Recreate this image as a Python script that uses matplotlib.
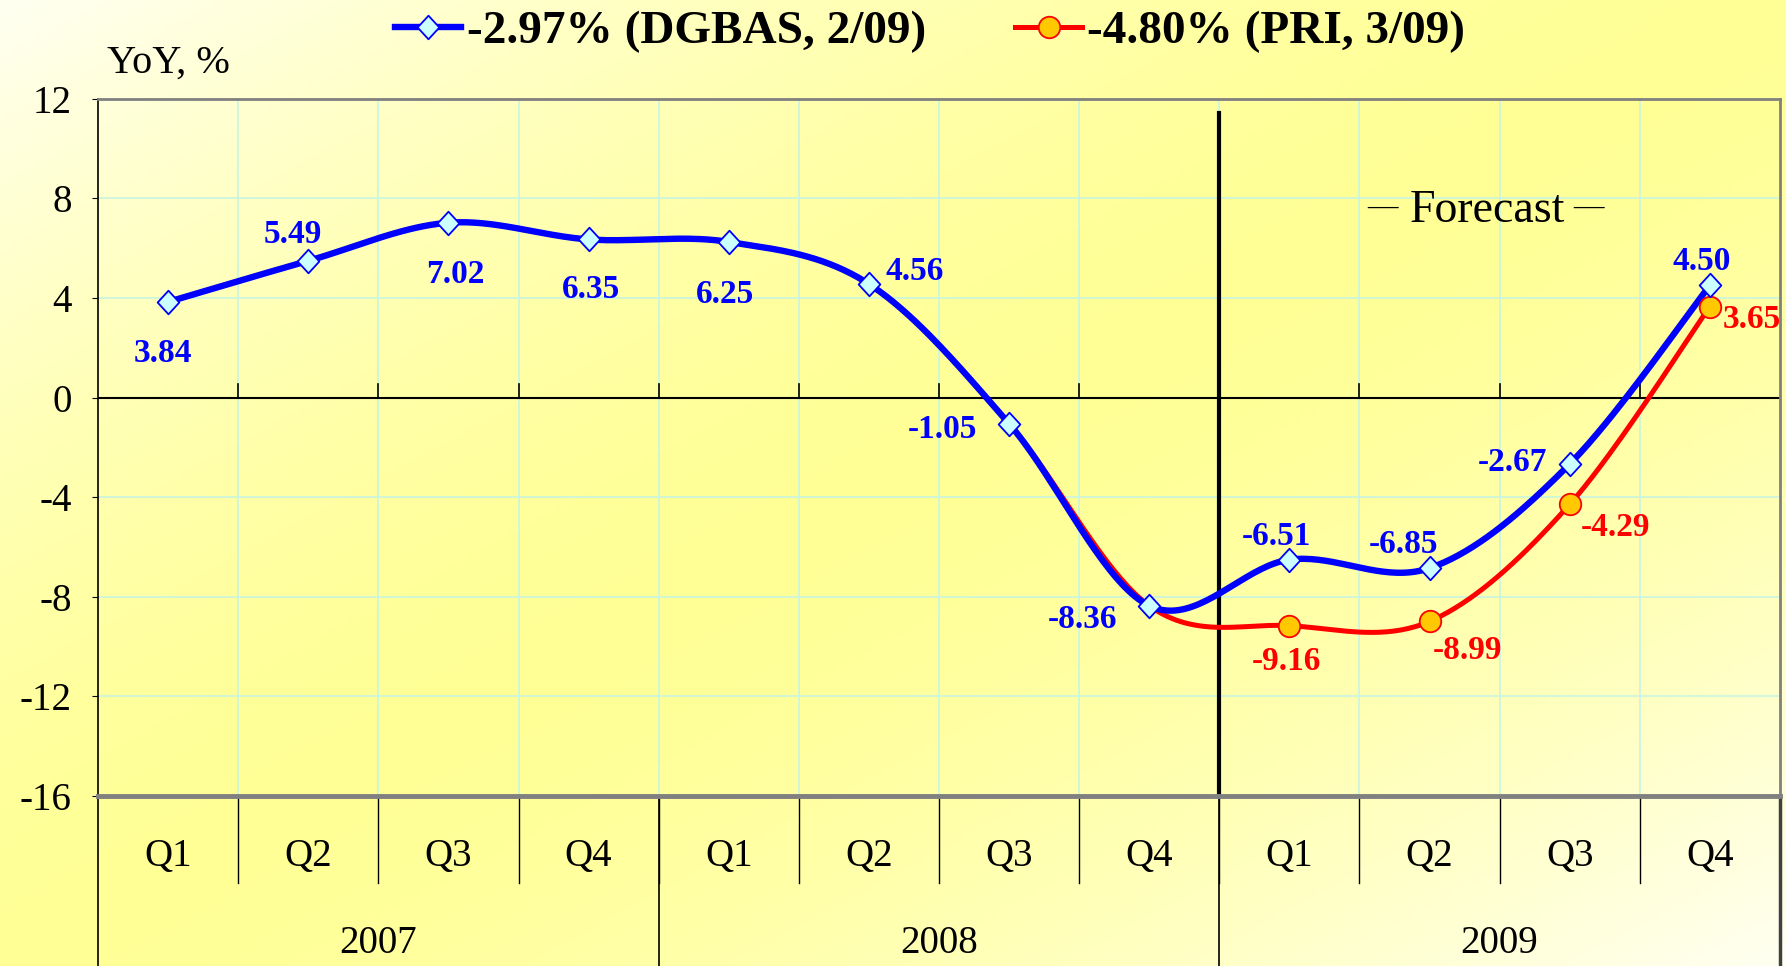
import numpy as np
import matplotlib
matplotlib.use("Agg")
import matplotlib.pyplot as plt
import matplotlib.transforms as mtransforms
from matplotlib.lines import Line2D
from matplotlib.path import Path

plt.rcParams["font.family"] = ["Liberation Serif", "DejaVu Serif"]
plt.rcParams["axes.unicode_minus"] = False

# données
quarters = ["Q1", "Q2", "Q3", "Q4"] * 3
years = ["2007", "2008", "2009"]
dgbas = [3.84, 5.49, 7.02, 6.35, 6.25, 4.56, -1.05, -8.36, -6.51, -6.85, -2.67, 4.50]
# la série PRI reprend l'historique (caché sous la ligne bleue)
pri = [3.84, 5.49, 7.02, 6.35, 6.25, 4.56, -1.05, -8.36, -9.16, -8.99, -4.29, 3.65]
pri_first_forecast = 8
dgbas_name = "-2.97% (DGBAS, 2/09)"
pri_name = "-4.80% (PRI, 3/09)"

# décalage des étiquettes (points)
dgbas_off = [(-4, -37), (-11, 19), (5, -37), (2, -36), (-3, -38), (33, 9),
             (-48, -4), (-48, -10), (-9, 17), (-19, 17), (-41, 1), (-6, 17)]
pri_off = [(-2, -26), (27, -21), (33, -17), (30, -9)]


def lisser(xs, ys, n=40):
    # courbe lissée façon Excel (Bezier / Catmull-Rom)
    pts = np.column_stack([xs, ys])
    res = []
    for i in range(len(pts) - 1):
        p0 = pts[i - 1] if i > 0 else pts[i]
        p1, p2 = pts[i], pts[i + 1]
        p3 = pts[i + 2] if i + 2 < len(pts) else pts[i + 1]
        c1 = p1 + (p2 - p0) / 6
        c2 = p2 - (p3 - p1) / 6
        t = np.linspace(0, 1, n)[:, None]
        seg = (1 - t) ** 3 * p1 + 3 * (1 - t) ** 2 * t * c1 + 3 * (1 - t) * t ** 2 * c2 + t ** 3 * p2
        res.append(seg if i == 0 else seg[1:])
    res = np.vstack(res)
    return res[:, 0], res[:, 1]


fig = plt.figure(figsize=(17.86, 9.66), dpi=100)

# fond dégradé
bg = fig.add_axes([0, 0, 1, 1], zorder=-10)
W, H = 400, 220
xx, yy = np.meshgrid(np.linspace(0, 1, W), np.linspace(0, 1, H))
t = (xx + yy) / 2
k = 1 - np.abs(2 * t - 1) ** 1.6
img = np.ones((H, W, 3))
img[:, :, 2] = (242 - k * (242 - 150)) / 255
bg.imshow(img, aspect="auto", extent=[0, 1, 1, 0])
bg.axis("off")

ax = fig.add_axes([0.0549, 0.176, 0.9417, 0.7218])
ax.set_facecolor("none")
x = np.arange(len(quarters))
ax.set_xlim(-0.5, 11.5)
ax.set_ylim(-16, 12)
ax.set_yticks(np.arange(-16, 13, 4))
ax.tick_params(axis="y", labelsize=28, length=4, pad=15)
ax.set_xticks([])

# grille
for yv in [-12, -8, -4, 4, 8]:
    ax.axhline(yv, color="#c8f5e0", lw=1.2, zorder=0)
for b in np.arange(0.5, 11, 1):
    ax.axvline(b, color="#c8f5e0", lw=1.2, zorder=0)
ax.axhline(0, color="black", lw=1.5, zorder=1)
for b in np.arange(0.5, 11, 1):
    ax.plot([b, b], [0, 0.55], color="black", lw=1.2, zorder=1)

for s in ["top", "right"]:
    ax.spines[s].set_color("#808080")
    ax.spines[s].set_linewidth(2)
ax.spines["bottom"].set_color("#808080")
ax.spines["bottom"].set_linewidth(3.5)
ax.spines["left"].set_linewidth(1.2)

# ligne prévision
ax.plot([7.5, 7.5], [-16, 11.42], color="black", lw=3, zorder=2)
ax.text(9.41, 7.04, "Forecast", fontsize=33, ha="center", va="baseline")
for dx in (-75, 73):
    ax.annotate("\u2014", (9.41, 7.04), xytext=(dx, 10.8), textcoords="offset points",
                fontsize=22, ha="center", va="center")

# séries
diamant = Path([(0, 1), (0.92, 0), (0, -1), (-0.92, 0), (0, 1)],
               [Path.MOVETO, Path.LINETO, Path.LINETO, Path.LINETO, Path.CLOSEPOLY])

pri_y = np.array(pri)
sx, sy = lisser(x, pri_y)
ax.plot(sx, sy, color="#ff0000", lw=3.6, zorder=3, solid_capstyle="round")
ax.plot(x[pri_first_forecast:], pri_y[pri_first_forecast:], ls="none", marker="o",
        ms=15.5, mfc="#ffc800", mec="#ff0000", mew=1.3, zorder=5)

sx, sy = lisser(x, np.array(dgbas))
ax.plot(sx, sy, color="#0000ff", lw=4.6, zorder=4, solid_capstyle="round")
ax.plot(x, dgbas, ls="none", marker=diamant, ms=17, mfc="#ccffff",
        mec="#0000ff", mew=1.3, zorder=6)

for xi, v, off in zip(x, dgbas, dgbas_off):
    ax.annotate(f"{v:.2f}", (xi, v), xytext=off, textcoords="offset points",
                ha="center", va="center", fontsize=24, fontweight="bold",
                color="#0000ff", zorder=7, annotation_clip=False)
for xi, v, off in zip(x[pri_first_forecast:], pri_y[pri_first_forecast:], pri_off):
    ax.annotate(f"{v:.2f}", (xi, v), xytext=off, textcoords="offset points",
                ha="center", va="center", fontsize=24, fontweight="bold",
                color="#ff0000", zorder=7, annotation_clip=False)

# axe des catégories
tr = mtransforms.blended_transform_factory(ax.transData, ax.transAxes)
for b in np.arange(0.5, 11, 1):
    ax.plot([b, b], [0, -0.125], color="black", lw=1, transform=tr, clip_on=False)
for b in [-0.5, 3.5, 7.5, 11.5]:
    c = "#404040" if b == 11.5 else "black"
    ax.plot([b, b], [0, -0.26], color=c, lw=1.2 if b != 11.5 else 2.5,
            transform=tr, clip_on=False)
for xi, q in zip(x, quarters):
    ax.text(xi, -0.0875, q, fontsize=28, ha="center", va="center", transform=tr)
for i, yr in enumerate(years):
    ax.text(4 * i + 1.5, -0.211, yr, fontsize=28, ha="center", va="center", transform=tr)

fig.text(168 / 1786, 1 - 63 / 966, "YoY, %", fontsize=29, ha="center", va="center")

# légende
h1 = Line2D([], [], color="#0000ff", lw=4.6, marker=diamant, ms=17, mfc="#ccffff",
            mec="#0000ff", mew=1.3)
h2 = Line2D([], [], color="#ff0000", lw=3.6, marker="o", ms=15.5, mfc="#ffc800",
            mec="#ff0000", mew=1.3)
fig.legend([h1, h2], [dgbas_name, pri_name], loc="center", ncol=2,
           bbox_to_anchor=(930 / 1786, 1 - 32 / 966), frameon=False,
           prop={"size": 34, "weight": "bold"}, handlelength=1.4,
           handletextpad=0.12, columnspacing=1.9)

fig.savefig("out.png", dpi=100)
